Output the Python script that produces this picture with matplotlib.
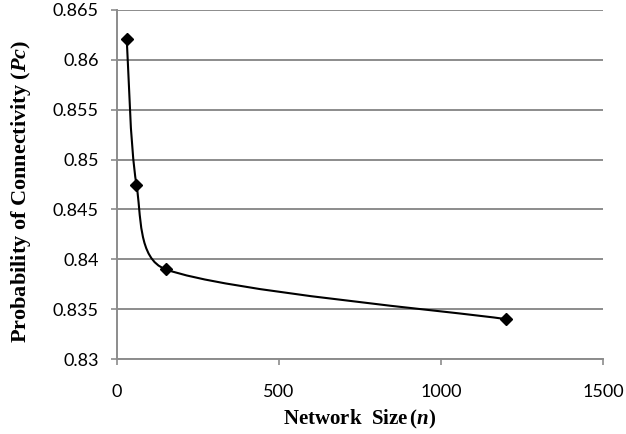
import numpy as np
import matplotlib.pyplot as plt
from matplotlib.path import Path
from matplotlib.patches import PathPatch

plt.rcParams['mathtext.fontset'] = 'custom'
plt.rcParams['mathtext.it'] = 'Liberation Serif:bold:italic'
plt.rcParams['mathtext.rm'] = 'Liberation Serif:bold'

# network size vs probability of connectivity
network_size = [30, 60, 150, 1200]
prob_conn = [0.8621, 0.8475, 0.8390, 0.8340]

x_ticks = [0, 500, 1000, 1500]
y_ticks = [0.83, 0.835, 0.84, 0.845, 0.85, 0.855, 0.86, 0.865]
y_labels = ['0.83', '0.835', '0.84', '0.845', '0.85', '0.855', '0.86', '0.865']

xmin, xmax = 0, 1500
ymin, ymax = 0.83, 0.865

fig = plt.figure(figsize=(6.26, 4.34), dpi=100)
ax = fig.add_axes([117 / 626, 1 - 359 / 434, 486 / 626, 349 / 434])
ax.set_xlim(xmin, xmax)
ax.set_ylim(ymin, ymax)

# smoothed line: cardinal spline as cubic bezier segments in pixel space,
# handle length limited to a third of the segment it belongs to
w, h = 486.0, 349.0
px = (np.array(network_size) - xmin) / (xmax - xmin) * w
py = (np.array(prob_conn) - ymin) / (ymax - ymin) * h
pts = np.column_stack([px, py])
n = len(pts)


def handle(d, seg_len):
    L = np.hypot(*d)
    lim = seg_len / 3.0
    if L > lim:
        d = d * lim / L
    return d


verts = [tuple(pts[0])]
codes = [Path.MOVETO]
for i in range(n - 1):
    p0 = pts[i - 1] if i > 0 else pts[i]
    p1 = pts[i]
    p2 = pts[i + 1]
    p3 = pts[i + 2] if i + 2 < n else pts[i + 1]
    seg = np.hypot(*(p2 - p1))
    c1 = p1 + handle((p2 - p0) / 6.0, seg)
    c2 = p2 - handle((p3 - p1) / 6.0, seg)
    verts += [tuple(c1), tuple(c2), tuple(p2)]
    codes += [Path.CURVE4] * 3
verts = np.array(verts)
verts[:, 0] = verts[:, 0] / w * (xmax - xmin) + xmin
verts[:, 1] = verts[:, 1] / h * (ymax - ymin) + ymin
ax.add_patch(PathPatch(Path(verts, codes), facecolor='none', edgecolor='black', lw=1.5, zorder=3))

ax.plot(network_size, prob_conn, linestyle='none', marker='D', markersize=6.5,
        color='black', zorder=4, clip_on=False)

ax.set_xticks(x_ticks)
ax.set_xticklabels([str(t) for t in x_ticks])
ax.set_yticks(y_ticks)
ax.set_yticklabels(y_labels)
ax.yaxis.grid(True, color='#8c8c8c', lw=1.4)
ax.set_axisbelow(True)

for s in ['top', 'right']:
    ax.spines[s].set_visible(False)
for s in ['left', 'bottom']:
    ax.spines[s].set_color('#8c8c8c')
    ax.spines[s].set_linewidth(1.4)
ax.tick_params(axis='both', direction='out', length=4.3, width=1.2, color='#8c8c8c',
               labelsize=13)
ax.tick_params(axis='x', pad=13.5)
ax.tick_params(axis='y', pad=9)
for lab in ax.get_xticklabels() + ax.get_yticklabels():
    lab.set_fontfamily('Lato')

ax.set_xlabel(r'Network  Size$\,\mathrm{(}\mathit{n}\mathrm{)}$', fontfamily='Liberation Serif',
              fontweight='bold', fontsize=15, labelpad=6)
ax.set_ylabel(r'Probability of Connectivity $\mathrm{(}\mathit{Pc}\mathrm{)}$',
              fontfamily='Liberation Serif', fontweight='bold', fontsize=16, labelpad=8)
ax.yaxis.set_label_coords(-0.172, 0.481)

fig.savefig('out.png', dpi=100)
